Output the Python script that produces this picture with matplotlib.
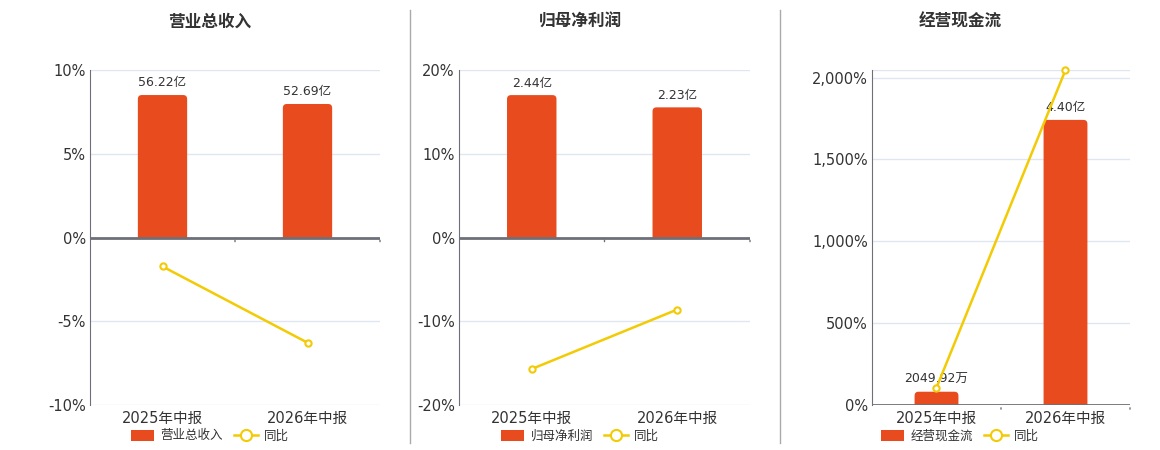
import numpy as np
import matplotlib.pyplot as plt
from matplotlib.patches import FancyBboxPatch, Rectangle
from matplotlib.lines import Line2D
from matplotlib.ticker import FuncFormatter

plt.rcParams['font.family'] = ['DejaVu Sans', 'Noto Sans CJK SC']

periods = ["2025年中报", "2026年中报"]

titles = ["营业总收入", "归母净利润", "经营现金流"]
# bar values in 亿
bar_values = [[56.22, 52.69], [2.44, 2.23], [0.204992, 4.40]]
bar_labels = [["56.22亿", "52.69亿"], ["2.44亿", "2.23亿"], ["2049.92万", "4.40亿"]]
# yoy in %
yoy_values = [[-1.73, -6.28], [-15.7, -8.6], [106, 2046]]

pct_limits = [(-10, 10), (-20, 20), (0, 2046)]
pct_ticks = [[-10, -5, 0, 5, 10], [-20, -10, 0, 10, 20], [0, 500, 1000, 1500, 2000]]
bar_limits = [(-66.1, 66.1), (-2.87, 2.87), (0, 5.17)]

bar_color = "#E84C1E"
line_color = "#F2CB05"
grid_color = "#E0E6F1"
axis_color = "#6E7079"
text_color = "#333333"

W, H = 1160, 450
fig = plt.figure(figsize=(11.6, 4.5), dpi=100)

# axes boxes in pixels (left, right) and title / legend centres
boxes = [(90, 380), (459, 750), (872, 1130)]
centres = [210, 580, 960]
top, bottom = 70, 405

for i in range(3):
    l, r = boxes[i]
    ax = fig.add_axes([l / W, 1 - bottom / H, (r - l) / W, (bottom - top) / H])
    ax2 = ax.twinx()   # bars
    ax3 = ax.twinx()   # yoy line, zero axis
    ax2.set_zorder(ax.get_zorder() + 1)
    ax3.set_zorder(ax.get_zorder() + 2)
    for a in (ax2, ax3):
        a.patch.set_visible(False)
        a.set_yticks([])
        for s in a.spines.values():
            s.set_visible(False)

    x = np.arange(len(periods))
    ax.set_xlim(-0.5, 1.5)
    ax.set_ylim(*pct_limits[i])
    ax3.set_ylim(*pct_limits[i])
    ax2.set_ylim(*bar_limits[i])

    # bars with rounded tops
    bars = ax2.bar(x, bar_values[i], width=0.34, color=bar_color, zorder=2)
    px_x = 2.0 / (r - l)
    px_y = (bar_limits[i][1] - bar_limits[i][0]) / (bottom - top)
    for b in bars:
        bx, by = b.get_x(), b.get_y()
        bw, bh = b.get_width(), b.get_height()
        rad = 4 * px_x
        ext = 6 * px_y
        fb = FancyBboxPatch((bx, by - ext), bw, bh + ext,
                            boxstyle="round,pad=0,rounding_size=%f" % rad,
                            mutation_aspect=px_y / px_x,
                            facecolor=bar_color, edgecolor="none", zorder=2)
        ax2.add_patch(fb)
        clip = Rectangle((bx - 1, 0), bw + 2, 1000, transform=ax2.transData)
        fb.set_clip_path(clip)
        b.remove()
    for xi, v, lab in zip(x, bar_values[i], bar_labels[i]):
        ax2.annotate(lab, (xi, v), xytext=(0, 4), textcoords="offset points",
                     ha="center", va="bottom", fontsize=9, color=text_color)

    ax3.axhline(0, color=axis_color, lw=2, zorder=3)
    for tx in [0.5, 1.5]:
        ax3.annotate("", xy=(tx, 0), xytext=(0, -5), textcoords="offset points",
                     arrowprops=dict(arrowstyle="-", color=axis_color, lw=1))
    ax3.plot(x, yoy_values[i], color=line_color, lw=1.8, marker="o", ms=4.5,
             mfc="white", mec=line_color, mew=1.5, zorder=5, clip_on=False)

    ax.set_yticks(pct_ticks[i])
    if i == 2:
        ax.yaxis.set_major_formatter(FuncFormatter(lambda v, p: "{:,.0f}%".format(v)))
    else:
        ax.yaxis.set_major_formatter(FuncFormatter(lambda v, p: "{:.0f}%".format(v)))
    ax.grid(axis="y", color=grid_color, lw=1)
    ax.set_axisbelow(True)
    if i == 2:
        ax.axhline(pct_limits[i][1], color=grid_color, lw=1)

    ax.set_xticks(x)
    ax.set_xticklabels(periods)
    ax.tick_params(axis="x", length=0, labelsize=10.5, colors=text_color, pad=4)
    ax.tick_params(axis="y", length=0, labelsize=10.5, colors=text_color, pad=3)
    for s in ["top", "right", "bottom"]:
        ax.spines[s].set_visible(False)
    ax.spines["left"].set_color(axis_color)

    cx = centres[i]
    fig.text(cx / W, 1 - 22 / H, titles[i], ha="center", va="center",
             fontsize=12, fontweight="bold", color=text_color)

    handles = [FancyBboxPatch((0, 0), 1, 1, boxstyle="round,pad=0,rounding_size=0.3",
                              facecolor=bar_color, edgecolor="none"),
               Line2D([0], [0], color=line_color, lw=1.8, marker="o", ms=8,
                      mfc="white", mec=line_color, mew=1.5)]
    fig.legend(handles, [titles[i], "同比"], loc="center",
               bbox_to_anchor=(cx / W, 1 - 436 / H), ncol=2, frameon=False,
               fontsize=9, handlelength=1.9, handleheight=0.95,
               columnspacing=0.9, handletextpad=0.5, labelcolor=text_color)

# separators
for sx in [410, 780]:
    fig.add_artist(Line2D([sx / W, sx / W], [1 - 10 / H, 1 - 443 / H],
                          color="#AAAAAA", lw=1))

fig.savefig("out.png", dpi=100)
